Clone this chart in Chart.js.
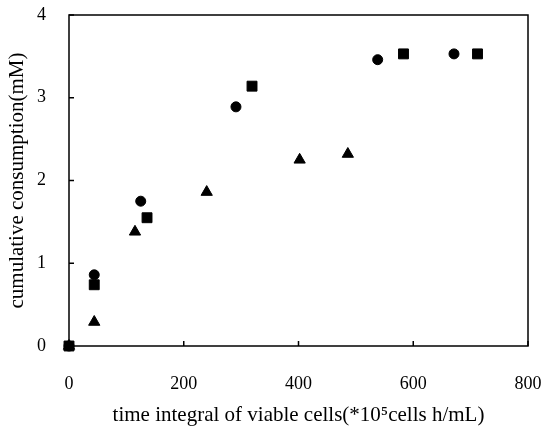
<!DOCTYPE html>
<html lang="en">
<head>
    <meta charset="UTF-8">
    <title>cumulative consumption</title>
    <script src="https://cdn.jsdelivr.net/npm/chart.js"></script>
    <style>
        body { margin: 0; background: #fff; }
    </style>
</head>
<body>
    <canvas id="consumptionChart" width="542" height="428"></canvas>

    <script>
        // time integral of viable cells (*10^5 cells h/mL) and consumption (mM)
        const circleX = [0, 44, 125, 291, 538, 671];
        const circleY = [0, 0.86, 1.75, 2.89, 3.46, 3.53];
        const squareX = [0, 44, 136, 319, 583, 712];
        const squareY = [0, 0.74, 1.55, 3.14, 3.53, 3.53];
        const triangleX = [0, 44, 115, 240, 402, 486];
        const triangleY = [0, 0.29, 1.38, 1.86, 2.25, 2.32];

        const xTicks = [0, 200, 400, 600, 800];
        const yTicks = [0, 1, 2, 3, 4];

        function pairs(xs, ys) {
            return xs.map((x, i) => ({ x: x, y: ys[i] }));
        }

        const serif = "'Liberation Serif', 'DejaVu Serif', serif";

        // box around the plot with short inward tick marks
        const frame = {
            id: 'frame',
            afterDraw(chart) {
                const ctx = chart.ctx;
                const a = chart.chartArea;
                const xs = chart.scales.x, ys = chart.scales.y;
                ctx.save();
                ctx.strokeStyle = '#000';
                ctx.lineWidth = 1.5;
                ctx.strokeRect(a.left, a.top, a.right - a.left, a.bottom - a.top);
                ctx.beginPath();
                xTicks.forEach(v => {
                    const px = xs.getPixelForValue(v);
                    ctx.moveTo(px, a.bottom);
                    ctx.lineTo(px, a.bottom - 5);
                });
                yTicks.forEach(v => {
                    const py = ys.getPixelForValue(v);
                    ctx.moveTo(a.left, py);
                    ctx.lineTo(a.left + 5, py);
                });
                ctx.stroke();
                ctx.restore();
            }
        };

        const ctx = document.getElementById('consumptionChart').getContext('2d');
        new Chart(ctx, {
            type: 'scatter',
            data: {
                datasets: [
                    { data: pairs(squareX, squareY), pointStyle: 'rect', pointRadius: 7,
                      backgroundColor: '#000', borderColor: '#000', clip: false },
                    { data: pairs(circleX, circleY), pointStyle: 'circle', pointRadius: 5,
                      backgroundColor: '#000', borderColor: '#000', clip: false },
                    { data: pairs(triangleX, triangleY), pointStyle: 'triangle', pointRadius: 6.5,
                      backgroundColor: '#000', borderColor: '#000', clip: false }
                ]
            },
            options: {
                responsive: false,
                animation: false,
                layout: { padding: { top: 15, right: 14, left: 0, bottom: 0 } },
                plugins: { legend: { display: false }, tooltip: { enabled: false } },
                scales: {
                    x: {
                        type: 'linear', min: 0, max: 800,
                        afterBuildTicks: s => { s.ticks = xTicks.map(v => ({ value: v })); },
                        afterFit: s => { s.height = 82; s.paddingLeft = 0; s.paddingRight = 0; },
                        grid: { display: false },
                        border: { display: false },
                        ticks: { color: '#000', padding: 19, maxRotation: 0,
                                 font: { family: serif, size: 18 } },
                        title: { display: true, color: '#000',
                                 text: 'time integral of viable cells(*10\u2075cells h/mL)',
                                 font: { family: serif, size: 21 },
                                 padding: { top: 0, bottom: 0 } }
                    },
                    y: {
                        type: 'linear', min: 0, max: 4,
                        afterBuildTicks: s => { s.ticks = yTicks.map(v => ({ value: v })); },
                        afterFit: s => { s.width = 69; s.paddingTop = 0; s.paddingBottom = 0; },
                        grid: { display: false },
                        border: { display: false },
                        ticks: { color: '#000', padding: 15,
                                 font: { family: serif, size: 18 } },
                        title: { display: true, color: '#000',
                                 text: 'cumulative consumption(mM)',
                                 font: { family: serif, size: 21 },
                                 padding: { top: 5, bottom: 0 } }
                    }
                }
            },
            plugins: [frame]
        });
    </script>
</body>
</html>
